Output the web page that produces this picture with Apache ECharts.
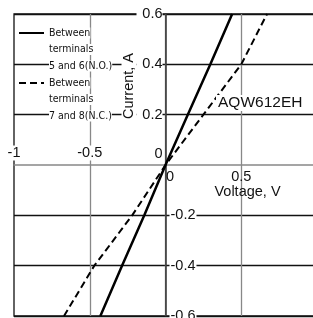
<!DOCTYPE html>
<html>
<head>
<meta charset="utf-8">
<script src="https://cdn.jsdelivr.net/npm/echarts@6/dist/echarts.min.js"></script>
<style>
  html, body { margin: 0; padding: 0; background: #fff; }
  #main { width: 313px; height: 318px; }
</style>
</head>
<body>
<div id="main"></div>
<script>
// data
var seriesNames = ['Between terminals 5 and 6(N.O.)', 'Between terminals 7 and 8(N.C.)'];
var noVoltage = [-0.43, -0.287, -0.14, 0, 0.147, 0.296, 0.44];
var noCurrent = [-0.6, -0.4, -0.2, 0, 0.2, 0.4, 0.6];
var ncVoltage = [-0.67, -0.47, -0.22, 0, 0.25, 0.5, 0.67];
var ncCurrent = [-0.6, -0.4, -0.2, 0, 0.2, 0.4, 0.6];
var legendLines = {
  'Between terminals 5 and 6(N.O.)': ['Between', 'terminals', '5 and 6(N.O.)'],
  'Between terminals 7 and 8(N.C.)': ['Between', 'terminals', '7 and 8(N.C.)']
};
var xLabelsAbove = ['-1', '-0.5'];
var xLabelsBelow = ['0', '0.5'];
var yLabelsLeft = ['0.6', '0.4', '0.2', '0'];
var yLabelsRight = ['-0.2', '-0.4', '-0.6'];

var FONT = '"Liberation Sans", Arial, sans-serif';
var NARROW = '"Liberation Sans Narrow", "DejaVu Sans Condensed", sans-serif';

function pairs(xs, ys) {
  return xs.map(function (x, i) { return [x, ys[i]]; });
}
function fmt(v) {
  return String(Math.round(v * 10) / 10);
}

var myChart = echarts.init(document.getElementById('main'));

var txt = { fontSize: 14.5, fontFamily: FONT, color: '#111', lineHeight: 17 };
function rs(extra) {
  var o = {};
  for (var k in txt) o[k] = txt[k];
  for (var j in extra) o[j] = extra[j];
  return o;
}

// labels of an onZero axis stay on the grid edge here, so pull them back to the centre lines
var grid = { left: 14, top: 14, right: -4, bottom: 2 };
var halfW = (313 - grid.left - grid.right) / 2;
var halfH = (318 - grid.top - grid.bottom) / 2;

var option = {
  animation: false,
  backgroundColor: '#fff',
  title: {
    text: 'AQW612EH',
    left: 216,
    top: 95,
    padding: [0, 2],
    backgroundColor: '#fff',
    textStyle: { fontSize: 15.5, fontWeight: 'normal', color: '#111', fontFamily: FONT }
  },
  legend: {
    orient: 'vertical',
    left: 18,
    top: -8.25,
    padding: 0,
    itemGap: -32.5,
    itemWidth: 25,
    itemHeight: 12,
    data: seriesNames,
    itemStyle: { color: 'rgba(0,0,0,0)', borderColor: 'rgba(0,0,0,0)', borderWidth: 0 },
    formatter: function (name) {
      return legendLines[name].map(function (s) { return '{t|' + s + '}'; }).join('\n');
    },
    textStyle: {
      padding: [33, 0, 0, 0],
      lineHeight: 16.5,
      rich: {
        t: { backgroundColor: '#fff', fontSize: 10.5, lineHeight: 16.5, fontFamily: NARROW, color: '#111' }
      }
    }
  },
  grid: {
    show: true,
    borderColor: '#111',
    borderWidth: 1.3,
    left: grid.left,
    top: grid.top,
    right: grid.right,
    bottom: grid.bottom,
    containLabel: false,
    outerBoundsMode: 'none'
  },
  xAxis: {
    type: 'value',
    min: -1,
    max: 1,
    interval: 0.5,
    axisLine: { onZero: true, lineStyle: { color: '#888', width: 1.5 } },
    axisTick: { show: false },
    axisLabel: {
      margin: -halfH,
      verticalAlign: 'middle',
      showMinLabel: true,
      showMaxLabel: true,
      formatter: function (v) {
        var s = fmt(v);
        if (xLabelsAbove.indexOf(s) >= 0) return '{a|' + s + '}\n{sv| }';
        if (s === '0') return '{sv| }\n{c0|0}';
        if (xLabelsBelow.indexOf(s) >= 0) return '{sv| }\n{c|' + s + '}';
        return '';
      },
      rich: {
        a: rs({ backgroundColor: '#fff', padding: [0, 1] }),
        c: rs({}),
        c0: rs({ padding: [0, 0, 0, 9] }),
        sv: rs({ lineHeight: 24, fontSize: 8 })
      }
    },
    splitLine: {
      show: true,
      showMinLine: false,
      showMaxLine: false,
      lineStyle: { color: '#888', width: 1.3 }
    },
    name: 'Voltage, V',
    nameLocation: 'middle',
    nameGap: 19 - halfH,
    nameMoveOverlap: false,
    nameTextStyle: { fontSize: 14.5, fontFamily: FONT, color: '#111', padding: [0, 0, 0, 164] }
  },
  yAxis: {
    type: 'value',
    min: -0.6,
    max: 0.6,
    interval: 0.2,
    axisLine: { onZero: true, lineStyle: { color: '#333', width: 1.5 } },
    axisTick: { show: false },
    axisLabel: {
      margin: 29 - halfW,
      align: 'left',
      showMinLabel: true,
      showMaxLabel: true,
      formatter: function (v) {
        var s = fmt(v);
        if (s === '0') return '{p0|0}\n{sv| }';
        if (yLabelsLeft.indexOf(s) >= 0) return '{p|' + s + '}';
        if (yLabelsRight.indexOf(s) >= 0) return '{sh| }{n|' + s + '}';
        return '';
      },
      rich: {
        p: rs({ width: 26, align: 'right', backgroundColor: '#fff' }),
        p0: rs({ width: 26, align: 'right' }),
        n: rs({ backgroundColor: '#fff', padding: [0, 1] }),
        sh: rs({ width: 33 }),
        sv: rs({ lineHeight: 22, fontSize: 8 })
      }
    },
    splitLine: {
      show: true,
      lineStyle: { color: ['#111', '#111', '#111', 'rgba(0,0,0,0)', '#111', '#111', '#111'], width: 1.3 }
    },
    name: '{n|Current, A}',
    nameLocation: 'middle',
    nameGap: 28 - halfW,
    nameMoveOverlap: false,
    nameTextStyle: {
      padding: [0, 0, 0, 158],
      rich: { n: rs({ backgroundColor: '#fff', padding: [0, 2] }) }
    }
  },
  series: [{
    name: seriesNames[0],
    type: 'line',
    symbol: 'none',
    lineStyle: { color: '#000', width: 2.5, type: 'solid' },
    itemStyle: { color: '#000' },
    data: pairs(noVoltage, noCurrent)
  }, {
    name: seriesNames[1],
    type: 'line',
    symbol: 'none',
    lineStyle: { color: '#000', width: 2, type: [7, 4] },
    itemStyle: { color: '#000' },
    data: pairs(ncVoltage, ncCurrent)
  }]
};

myChart.setOption(option);
</script>
</body>
</html>
